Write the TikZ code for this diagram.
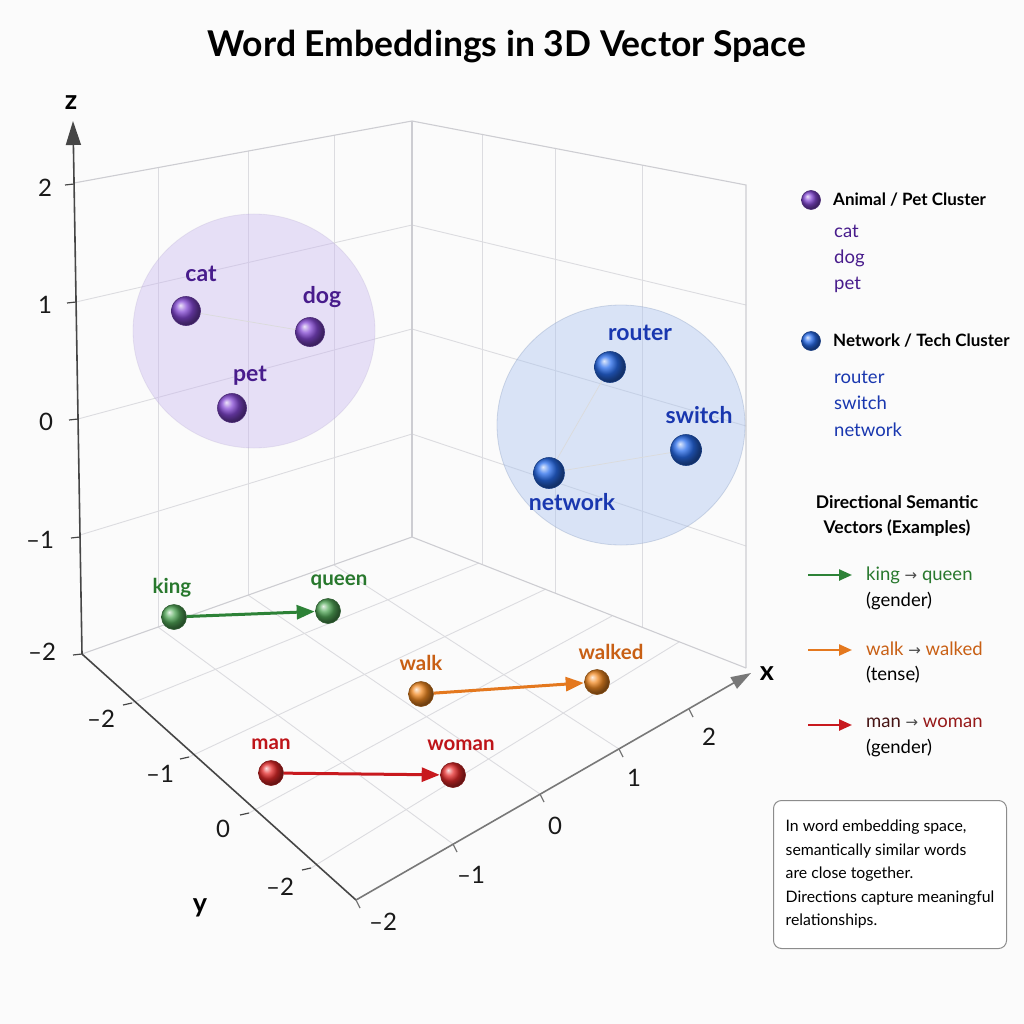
\documentclass[tikz,border=0pt]{standalone}
\usepackage{fontspec}
\setmainfont{Lato}
\newfontfamily\symfont{DejaVu Sans}
\usetikzlibrary{arrows.meta,shapes.geometric}
\definecolor{bgc}{RGB}{251,251,251}
\definecolor{gridc}{RGB}{220,220,224}
\definecolor{edgec}{RGB}{205,205,210}
\definecolor{axisc}{RGB}{70,70,70}
\definecolor{xaxisc}{RGB}{120,120,120}
\definecolor{purpball}{RGB}{132,72,212}
\definecolor{purplab}{RGB}{72,28,140}
\definecolor{blueball}{RGB}{40,108,235}
\definecolor{bluelab}{RGB}{25,55,175}
\definecolor{greenball}{RGB}{82,168,88}
\definecolor{greenlab}{RGB}{40,120,45}
\definecolor{greenarr}{RGB}{45,130,55}
\definecolor{orangeball}{RGB}{242,138,35}
\definecolor{orangelab}{RGB}{200,95,20}
\definecolor{orangearr}{RGB}{228,120,30}
\definecolor{redball}{RGB}{228,42,42}
\definecolor{redlab}{RGB}{190,20,25}
\definecolor{redarr}{RGB}{200,25,30}
\definecolor{mandark}{RGB}{70,20,20}
\definecolor{womanred}{RGB}{150,25,25}
\definecolor{purpfill}{RGB}{200,182,240}
\definecolor{bluefill}{RGB}{170,195,240}
\tikzset{
  gridln/.style={draw=gridc, line width=0.9pt},
  edgeln/.style={draw=edgec, line width=1.1pt},
  axisln/.style={draw=axisc, line width=1.6pt},
  tickln/.style={draw=axisc, line width=1.2pt},
  wball/.style 2 args={circle, inner sep=0pt, minimum size=#2, shading=ball, ball color=#1, draw=#1!55!black, line width=0.6pt},
  clab/.style={font=\bfseries\fontsize{23}{26}\selectfont, text=#1, inner sep=1pt},
  vlab/.style={font=\bfseries\fontsize{20.5}{22}\selectfont, text=#1, inner sep=1pt},
  ticklab/.style={font=\fontsize{24}{26}\selectfont, text=black!90, inner sep=1pt},
  axlab/.style={font=\bfseries\fontsize{27}{28}\selectfont, text=black, inner sep=1pt},
  varrow/.style={draw=#1, line width=3pt, -{Triangle[length=18pt,width=14pt]}, shorten >=0.5pt},
  larrow/.style={draw=#1, line width=2.4pt, -{Triangle[length=13pt,width=11pt]}},
  legtxt/.style={font=\fontsize{18.5}{20}\selectfont, anchor=west, inner sep=0pt},
  leghead/.style={font=\bfseries\fontsize{17}{20}\selectfont, anchor=west, inner sep=0pt},
  faint/.style={draw=black!14, line width=0.7pt},
}
\newcommand{\rarr}{{\symfont\fontsize{15}{16}\selectfont\color{black!70}→}}
\begin{document}
\begin{tikzpicture}[x=1pt,y=-1pt]
\fill[bgc] (0,0) rectangle (1024,1024);
\useasboundingbox (0,0) rectangle (1024,1024);

% title
\node[font=\bfseries\fontsize{35.5}{40}\selectfont] (title) at (507,47) {Word Embeddings in 3D Vector Space};

% ---------- walls grid ----------
\draw[gridln] (76,302) -- (412,225);
\draw[gridln] (78,419) -- (412,329);
\draw[gridln] (80,535) -- (412,434);
\draw[gridln] (158,168) -- (158,627);
\draw[gridln] (248,151) -- (248,595);
\draw[gridln] (334,135) -- (334,565);
\draw[gridln] (412,225) -- (746,305);
\draw[gridln] (412,329) -- (746,426);
\draw[gridln] (412,434) -- (746,546);
\draw[gridln] (482,134) -- (482,564);
\draw[gridln] (555,148) -- (555,593);
\draw[gridln] (642,165) -- (642,627);
\draw[gridln] (158,627) -- (453,844);
\draw[gridln] (248,595) -- (540,794);
\draw[gridln] (334,565) -- (619,749);
\draw[gridln] (132,703) -- (479,563);
\draw[gridln] (189,757) -- (546,589);
\draw[gridln] (249,813) -- (612,616);
\draw[gridln] (311,868) -- (679,642);
\draw[edgeln] (74,183) -- (412,121) -- (746,185) -- (746,668);
\draw[edgeln] (412,121) -- (412,537);
\draw[edgeln] (82,654) -- (412,537) -- (746,668);

% ---------- clusters ----------
\fill[purpfill, fill opacity=0.40] (254,331) ellipse [x radius=121, y radius=117];
\draw[purpfill!80!black, opacity=0.18, line width=0.8pt] (254,331) ellipse [x radius=121, y radius=117];
\fill[bluefill, fill opacity=0.42] (621,425) ellipse [x radius=124, y radius=120];
\draw[bluefill!80!black, opacity=0.35, line width=0.8pt] (621,425) ellipse [x radius=124, y radius=120];

% ---------- axes ----------
\coordinate (L) at (82,654);
\coordinate (F) at (356,900);
\coordinate (ztip) at (73,121);
\coordinate (xtip) at (751,673);
\draw[axisln, -{Triangle[length=24pt,width=15pt]}] (L) -- (ztip);
\draw[axisln] (L) -- (F);
\draw[draw=xaxisc, line width=1.6pt, -{Triangle[length=20pt,width=13pt]}] (F) -- (xtip);
\foreach \xx/\yy in {74/184,76/302,78/419,80/537,82/654}
  \draw[tickln] (\xx-9,\yy+1) -- (\xx,\yy);
\foreach \xx/\yy in {132/703,189/757,249/813,311/868}
  \draw[tickln] (\xx,\yy) -- (\xx-9,\yy+2);
\foreach \xx/\yy in {356/900,453/844,540/794,619/749,689/709}
  \draw[draw=xaxisc, line width=1.2pt] (\xx,\yy) -- (\xx+4,\yy+8);

\node[axlab] (zlab) at (71,103) {z};
\node[axlab] (xlab) at (767,674) {x};
\node[axlab] (ylab) at (200,908) {y};

\node[ticklab] (z2) at (45,188) {2};
\node[ticklab] (z1) at (45,305) {1};
\node[ticklab] (z0) at (46,422) {0};
\node[ticklab] (zm1) at (40,540) {\textendash1};
\node[ticklab] (zm2) at (42,652) {\textendash2};

\node[ticklab] (ym2a) at (101,719) {\textendash2};
\node[ticklab] (ym1) at (160,774) {\textendash1};
\node[ticklab] (y0) at (223,829) {0};
\node[ticklab] (ym2b) at (280,887) {\textendash2};

\node[ticklab] (xm2) at (383,922) {\textendash2};
\node[ticklab] (xm1) at (471,875) {\textendash1};
\node[ticklab] (x0) at (555,826) {0};
\node[ticklab] (x1) at (634,778) {1};
\node[ticklab] (x2) at (709,737) {2};

% ---------- balls ----------
\node[wball={purpball}{29pt}] (cat) at (186,311) {};
\node[wball={purpball}{29pt}] (dog) at (310,332) {};
\node[wball={purpball}{29pt}] (pet) at (232,408) {};
\node[wball={blueball}{31pt}] (router) at (610,367) {};
\node[wball={blueball}{31pt}] (switch) at (686,450) {};
\node[wball={blueball}{31pt}] (network) at (549,473) {};
\draw[faint] (cat) -- (dog);
\draw[faint] (network) -- (router);
\draw[faint] (network) -- (switch);

\node[clab=purplab] (catL) at (201,274) {cat};
\node[clab=purplab] (dogL) at (322,297) {dog};
\node[clab=purplab] (petL) at (250,376) {pet};
\node[clab=bluelab] (routerL) at (640,333) {router};
\node[clab=bluelab] (switchL) at (699,415) {switch};
\node[clab=bluelab] (networkL) at (572,502) {network};

\node[wball={greenball}{25pt}] (king) at (174,617) {};
\node[wball={greenball}{25pt}] (queen) at (328,611) {};
\node[wball={orangeball}{25pt}] (walk) at (421,694) {};
\node[wball={orangeball}{25pt}] (walked) at (597,682) {};
\node[wball={redball}{25pt}] (man) at (271,773) {};
\node[wball={redball}{25pt}] (woman) at (453,775) {};
\draw[varrow=greenarr] (king) -- (queen);
\draw[varrow=orangearr] (walk) -- (walked);
\draw[varrow=redarr] (man) -- (woman);

\node[vlab=greenlab] (kingL) at (172,588) {king};
\node[vlab=greenlab] (queenL) at (339,582) {queen};
\node[vlab=orangelab] (walkL) at (421,663) {walk};
\node[vlab=orangelab] (walkedL) at (611,652) {walked};
\node[vlab=redlab] (manL) at (271,744) {man};
\node[vlab=redlab] (womanL) at (461,745) {woman};

% ---------- legend ----------
\node[wball={purpball}{19pt}] (lgp) at (811,200) {};
\node[leghead] (lgpT) at (833,200) {Animal / Pet Cluster};
\node[legtxt, text=purplab] (lg1) at (834,231) {cat};
\node[legtxt, text=purplab] (lg2) at (834,258) {dog};
\node[legtxt, text=purplab] (lg3) at (834,285) {pet};
\node[wball={blueball}{19pt}] (lgb) at (811,341) {};
\node[leghead] (lgbT) at (833,341) {Network / Tech Cluster};
\node[legtxt, text=bluelab] (lg4) at (834,377) {router};
\node[legtxt, text=bluelab] (lg5) at (834,403) {switch};
\node[legtxt, text=bluelab] (lg6) at (834,430) {network};

\node[font=\bfseries\fontsize{17.5}{25}\selectfont, align=center] (dirT) at (897,516) {Directional Semantic\\Vectors (Examples)};

\coordinate (ga) at (808,575);
\coordinate (gb) at (852,575);
\draw[larrow=greenarr] (ga) -- (gb);
\node[legtxt] (gl1) at (866,575) {\color{greenlab}king \rarr{} queen};
\node[legtxt] (gl2) at (866,601) {(gender)};
\coordinate (oa) at (808,650);
\coordinate (ob) at (852,650);
\draw[larrow=orangearr] (oa) -- (ob);
\node[legtxt] (ol1) at (866,649) {\color{orangelab}walk \rarr{} walked};
\node[legtxt] (ol2) at (866,675) {(tense)};
\coordinate (ra) at (808,725);
\coordinate (rb) at (852,725);
\draw[larrow=redarr] (ra) -- (rb);
\node[legtxt] (rl1) at (866,723) {{\color{mandark}man} \rarr{} {\color{womanred}woman}};
\node[legtxt] (rl2) at (866,748) {(gender)};

% ---------- note ----------
\node[draw=black!45, line width=1pt, rounded corners=8pt, fill=white, minimum width=233pt, minimum height=148pt, align=left, font=\fontsize{15.8}{23.5}\selectfont, anchor=north west] (note) at (773,800) {In word embedding space,\\semantically similar words\\are close together.\\Directions capture meaningful\\relationships.};
\end{tikzpicture}
\end{document}
